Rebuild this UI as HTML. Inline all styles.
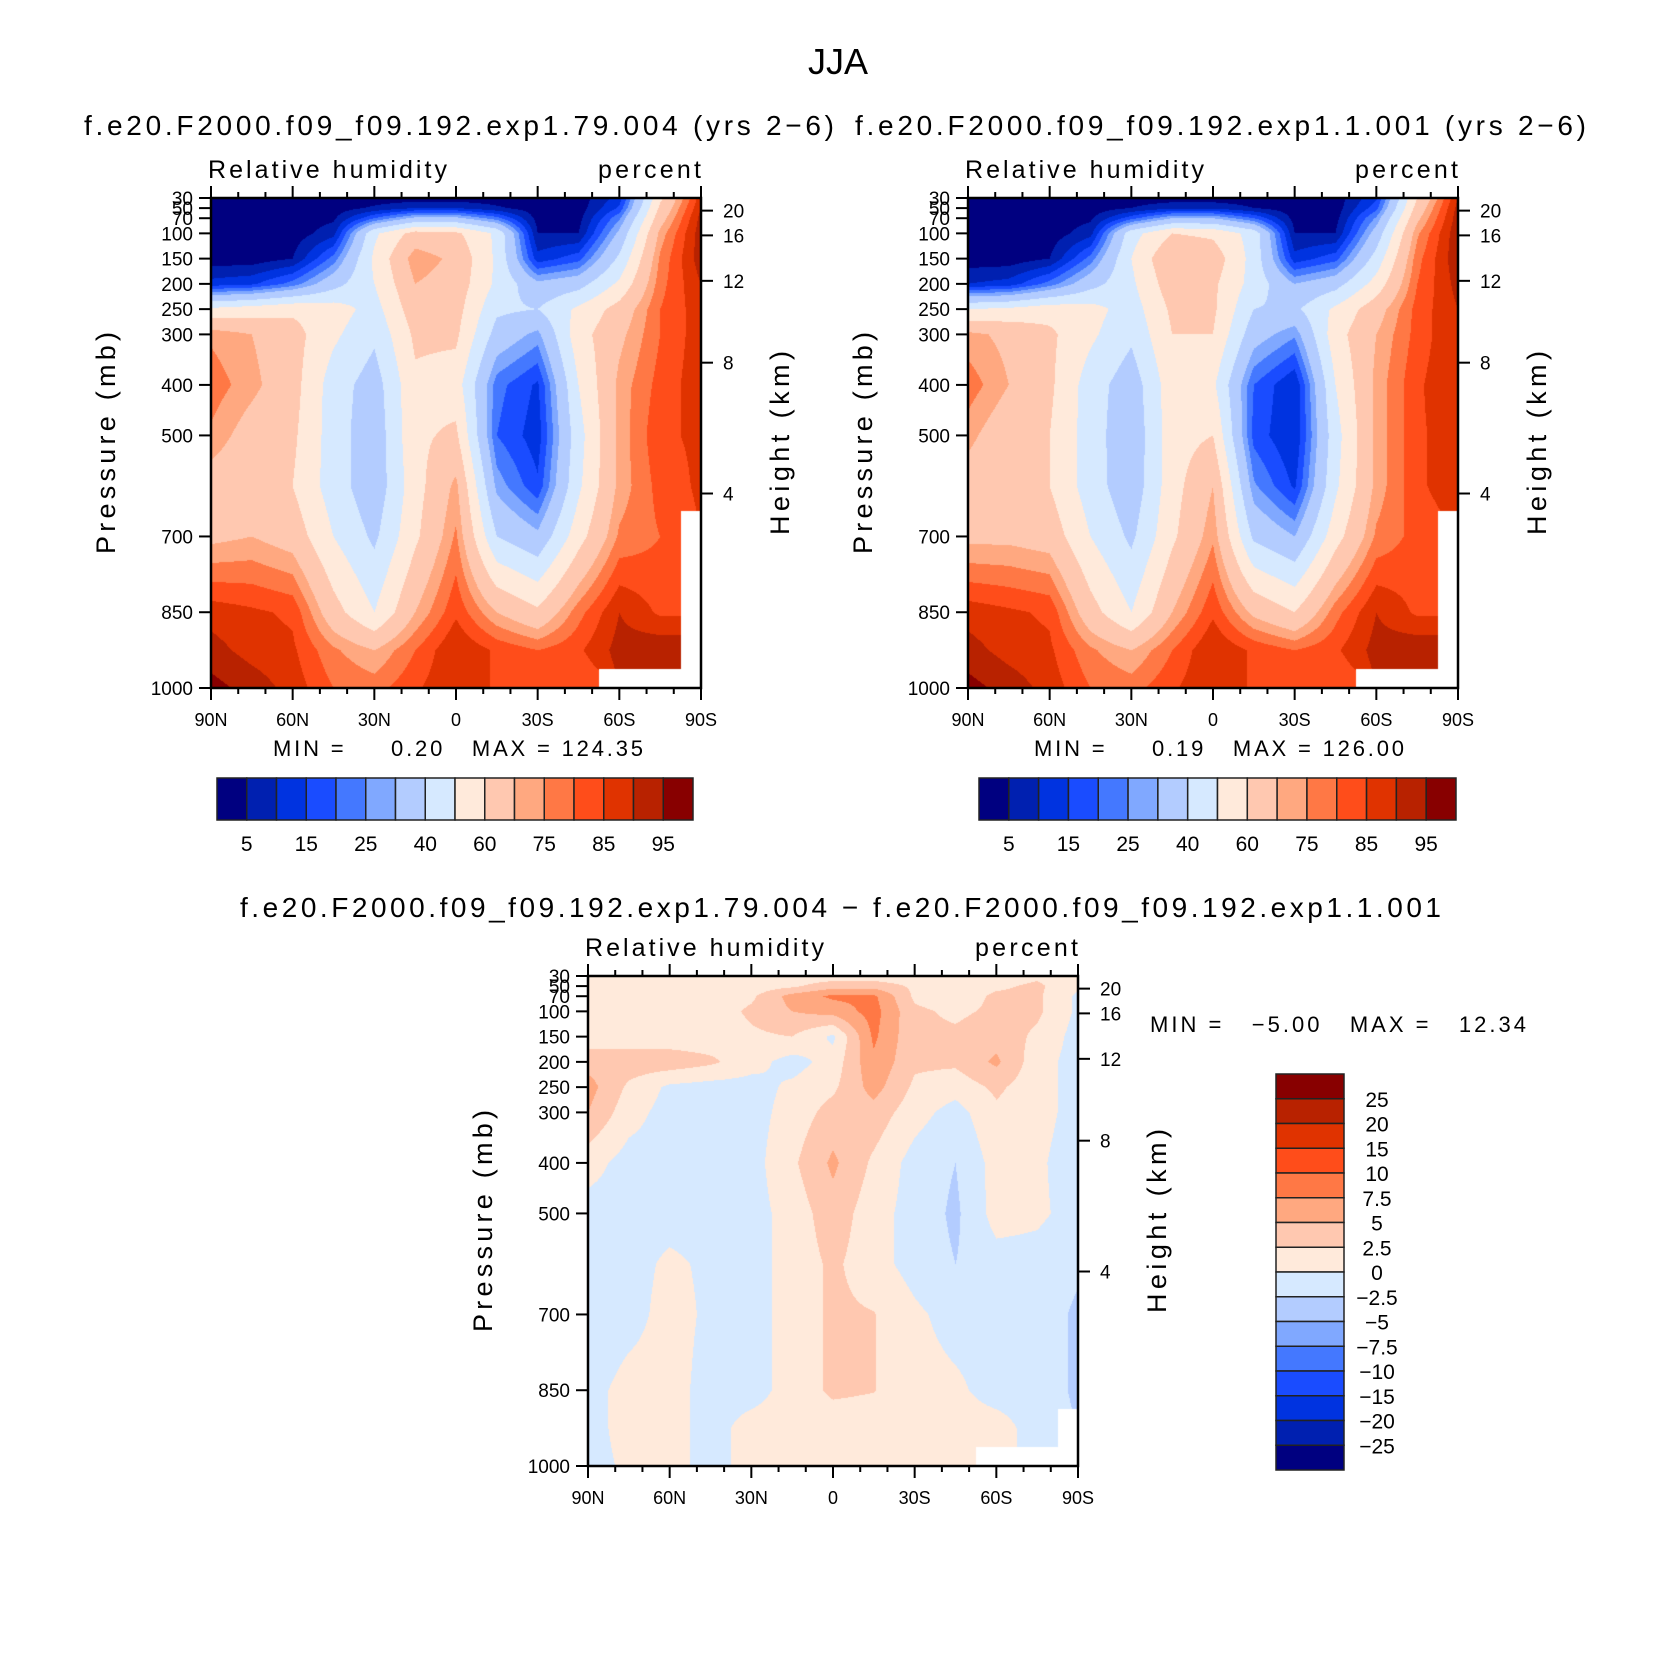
<!DOCTYPE html>
<html><head><meta charset="utf-8">
<style>
html,body{margin:0;padding:0;background:#fff;}
#wrap{position:relative;width:1669px;height:1666px;overflow:hidden;font-family:"Liberation Sans",sans-serif;}
canvas{position:absolute;}
svg{position:absolute;left:0;top:0;}
text{font-family:"Liberation Sans",sans-serif;fill:#000;}
</style></head>
<body>
<div id="wrap">
<canvas id="c1"></canvas>
<canvas id="c2"></canvas>
<canvas id="c3"></canvas>
<svg id="svg" width="1669" height="1666"></svg>
</div>
<script>
const lats = ["90N","75N","60N","45N","30N","15N","0","15S","30S","45S","60S","75S","90S"];
const pLevels = [30,50,70,100,150,200,250,300,400,500,600,700,850,925,1000];
const rhLevels = [5,10,15,20,25,30,40,50,60,70,75,80,85,90,95];
const diffLevels = [-25,-20,-15,-10,-7.5,-5,-2.5,0,2.5,5,7.5,10,15,20,25];
const rhLabels = ["5","15","25","40","60","75","85","95"];
const diffLabels = ["25","20","15","10","7.5","5","2.5","0","\u22122.5","\u22125","\u22127.5","\u221210","\u221215","\u221220","\u221225"];
const yTicks = [30,50,70,100,150,200,250,300,400,500,700,850,1000];
const xTickLabels = ["90N","60N","30N","0","30S","60S","90S"];
const heightTicks = ["20","16","12","8","4"];
const heightTickP = [55,104,194,356,615];
const palette = ["#000080","#0020b0","#0033e0","#1a4cff","#4478ff","#80a8ff","#b3ccff","#d6e9ff","#ffeadb","#ffc8b0","#ffa880","#ff7845","#ff4d1a","#e03300","#b82200","#880000"];
const N = null;
const rh1 = [
[2,2,2,2,2,2,2,2,2,2,12,58,88],
[2,2,2,2,6,10,10,6,2,2,16,62,90],
[2,2,2,4,20,32,32,22,3,3,24,66,92],
[2,2,2,8,48,64,62,48,5,5,32,72,93],
[2,2,5,22,52,74,68,48,12,18,42,76,93],
[12,14,22,36,50,70,66,48,32,36,52,78,90],
[52,55,58,55,46,66,64,42,40,52,64,80,88],
[74,70,64,52,42,62,62,36,28,56,68,80,88],
[78,72,64,45,35,58,55,22,14,50,72,82,88],
[74,66,62,45,33,58,62,20,12,46,72,84,86],
[66,62,60,45,33,56,72,28,16,48,72,82,86],
[68,70,66,50,38,58,76,40,32,56,76,80,N],
[88,86,84,64,50,70,84,70,62,78,90,84,N],
[92,88,86,76,70,80,90,84,80,84,92,94,N],
[97,93,88,80,78,84,90,84,80,80,N,N,N]];
const rh2 = [
[2,2,2,2,2,2,2,2,2,2,14,60,90],
[2,2,2,2,5,9,9,5,2,2,18,64,92],
[2,2,2,4,18,30,30,20,3,3,26,68,93],
[2,2,2,8,46,60,58,46,5,5,34,74,94],
[2,2,5,22,50,70,66,46,12,18,44,78,94],
[10,12,22,36,48,66,62,46,30,36,54,80,92],
[50,52,56,54,45,62,62,40,38,52,66,82,90],
[72,68,62,52,42,60,60,34,26,56,70,82,90],
[78,70,62,45,34,56,52,20,10,50,72,84,90],
[72,64,60,45,32,56,60,18,10,46,72,84,88],
[66,62,60,45,33,56,70,26,14,48,72,84,88],
[68,68,66,50,38,58,74,38,30,56,76,82,N],
[88,86,84,64,50,70,84,68,60,78,90,84,N],
[92,88,86,76,70,80,90,84,80,84,92,94,N],
[97,93,88,80,78,84,90,84,80,80,N,N,N]];
const diff = [
[1,1,1,1,1,1,1,1,1,1,1,2,1],
[1,1,1,1,1,2,4,4,2,1,2,3,0.5],
[1,1,1,1,2,6,8,8,2,1,3,3,-0.5],
[1,1,1,1,3,5,6,8.5,3,2,3,3,-0.5],
[1,1,1,1,2,2.5,-0.5,8,3,3,4,2,-1],
[4,4,4,3,1,-1,1,7,3,3,5.5,1,-1],
[6,2,-0.5,-1,-1,0.5,2,6,2,1,3,1,-1],
[5,1,-1,-1,-1,1,3.5,4,1,-1,2,1,-1],
[1,-1,-1,-1,-1,2,5.5,2,-1,-2.5,1,0.5,-1.5],
[-1,-1,-1,-1,-1,1,4,1,-1,-3,1,0.5,-1],
[-2.5,-1,0.5,-0.5,-1,1,3,1,-1,-2.5,-1,-1,-2],
[-2,-1,1,-0.5,-1,1,3,2.6,0.5,-1,-1,-1,-3],
[-1,1,1,-1,-1,1,3,2.6,1,0.5,-1,-1,-3],
[-1,1,1,-1,1,1,1,1,1,1,1,-1,N],
[-1,0.5,1,-1,1,1,1,1,1,1,N,N,N]];

const SVGNS="http://www.w3.org/2000/svg";
const svg=document.getElementById('svg');
function el(tag,attrs,txt){const e=document.createElementNS(SVGNS,tag);for(const k in attrs)e.setAttribute(k,attrs[k]);if(txt!==undefined)e.textContent=txt;svg.appendChild(e);return e;}
function colorIdx(v,lev){let i=0;while(i<lev.length&&v>=lev[i])i++;return Math.min(i,palette.length-1);}
function hex2rgb(h){return [parseInt(h.slice(1,3),16),parseInt(h.slice(3,5),16),parseInt(h.slice(5,7),16)];}
const palRGB=palette.map(hex2rgb);

function drawField(id,x0,y0,w,h,data,lev){
  const c=document.getElementById(id);c.width=w;c.height=h;c.style.left=x0+'px';c.style.top=y0+'px';
  const ctx=c.getContext('2d');const img=ctx.createImageData(w,h);
  const nc=lats.length-1;
  for(let py=0;py<h;py++){
    const p=30+(py+0.5)/h*970;
    let r=0;while(r<pLevels.length-2&&p>pLevels[r+1])r++;
    const fy=Math.min(1,Math.max(0,(p-pLevels[r])/(pLevels[r+1]-pLevels[r])));
    for(let px=0;px<w;px++){
      const fxx=(px+0.5)/w*nc;let ci=Math.min(nc-1,Math.floor(fxx));const fx=fxx-ci;
      const v00=data[r][ci],v01=data[r][ci+1],v10=data[r+1][ci],v11=data[r+1][ci+1];
      const near=data[fy<0.5?r:r+1][fx<0.5?ci:ci+1];
      let col;
      if(near===null){col=[255,255,255];}
      else{
        const vs=[[v00,(1-fx)*(1-fy)],[v01,fx*(1-fy)],[v10,(1-fx)*fy],[v11,fx*fy]];
        let s=0,ws=0;for(const [v,wt] of vs){if(v!==null){s+=v*wt;ws+=wt;}}
        col=palRGB[colorIdx(ws>0?s/ws:near,lev)];
      }
      const k=(py*w+px)*4;img.data[k]=col[0];img.data[k+1]=col[1];img.data[k+2]=col[2];img.data[k+3]=255;
    }
  }
  ctx.putImageData(img,0,0);
}

function axes(x0,y0,w,h,name){
  const xs=v=>x0+v/180*w;
  const ys=p=>y0+(p-30)/970*h;
  el('rect',{x:x0,y:y0,width:w,height:h,fill:'none',stroke:'#000','stroke-width':2.5,});
  for(let d=0;d<=180;d+=10){
    const major=d%30===0,L=major?12:6;
    el('line',{x1:xs(d),y1:y0,x2:xs(d),y2:y0-L,stroke:'#000','stroke-width':2,});
    el('line',{x1:xs(d),y1:y0+h,x2:xs(d),y2:y0+h+L,stroke:'#000','stroke-width':2,});
  }
  xTickLabels.forEach((t,i)=>{
    el('text',{x:xs(i*30),y:y0+h+38,'font-size':18,'text-anchor':'middle',},t);
  });
  yTicks.forEach(p=>{
    el('line',{x1:x0,y1:ys(p),x2:x0-12,y2:ys(p),stroke:'#000','stroke-width':2,});
    el('text',{x:x0-18,y:ys(p)+7,'font-size':19,'text-anchor':'end',},String(p));
  });
  heightTicks.forEach((t,i)=>{
    const y=ys(heightTickP[i]);
    el('line',{x1:x0+w,y1:y,x2:x0+w+12,y2:y,stroke:'#000','stroke-width':2,});
    el('text',{x:x0+w+22,y:y+7,'font-size':19,},t);
  });
  el('text',{x:x0-3,y:y0-20,'font-size':25,'textLength':239,},'Relative humidity');
  el('text',{x:x0+w,y:y0-20,'font-size':25,'text-anchor':'end','textLength':103,},'percent');
  const cy=y0+h*0.5;
  el('text',{x:x0-96,y:cy,'font-size':27,'text-anchor':'middle',transform:'rotate(-90 '+(x0-96)+' '+cy+')','textLength':222,},'Pressure (mb)');
  el('text',{x:x0+w+88,y:cy,'font-size':27,'text-anchor':'middle',transform:'rotate(-90 '+(x0+w+88)+' '+cy+')','textLength':184,},'Height (km)');
}

function hBar(x0,y0,w,h,name){
  const bw=w/palette.length;
  palette.forEach((c,i)=>{el('rect',{x:x0+i*bw,y:y0,width:bw,height:h,fill:c,stroke:'#222','stroke-width':1.5,});});
  rhLabels.forEach((t,i)=>{el('text',{x:x0+(2*i+1)*bw,y:y0+h+31,'font-size':21,'text-anchor':'middle',},t);});
}
function vBar(x0,y0,w,h,name){
  const bh=h/palette.length;
  palette.slice().reverse().forEach((c,i)=>{el('rect',{x:x0,y:y0+i*bh,width:w,height:bh,fill:c,stroke:'#222','stroke-width':1.5,});});
  diffLabels.forEach((t,i)=>{el('text',{x:x0+w+33,y:y0+(i+1)*bh+8,'font-size':21,'text-anchor':'middle',},t);});
}

const P1={x:211,y:198,w:490,h:490}, P2={x:968,y:198,w:490,h:490}, P3={x:588,y:976,w:490,h:490};
try{drawField('c1',P1.x,P1.y,P1.w,P1.h,rh1,rhLevels);}catch(e){}
try{drawField('c2',P2.x,P2.y,P2.w,P2.h,rh2,rhLevels);}catch(e){}
try{drawField('c3',P3.x,P3.y,P3.w,P3.h,diff,diffLevels);}catch(e){}
axes(P1.x,P1.y,P1.w,P1.h,'panel1');
axes(P2.x,P2.y,P2.w,P2.h,'panel2');
axes(P3.x,P3.y,P3.w,P3.h,'panel3');

el('text',{x:838,y:74,'font-size':36,'text-anchor':'middle',},'JJA');
el('text',{x:84,y:135,'font-size':28,'textLength':750,},'f.e20.F2000.f09_f09.192.exp1.79.004 (yrs 2\u22126)');
el('text',{x:855,y:135,'font-size':28,'textLength':731,},'f.e20.F2000.f09_f09.192.exp1.1.001 (yrs 2\u22126)');
el('text',{x:240,y:917,'font-size':28,'textLength':1201,},'f.e20.F2000.f09_f09.192.exp1.79.004 \u2212 f.e20.F2000.f09_f09.192.exp1.1.001');

el('text',{x:273,y:756,'font-size':22,'textLength':370,'style':'white-space:pre',},'MIN =     0.20   MAX = 124.35');
el('text',{x:1034,y:756,'font-size':22,'textLength':370,'style':'white-space:pre',},'MIN =     0.19   MAX = 126.00');
el('text',{x:1150,y:1032,'font-size':22,'textLength':376,'style':'white-space:pre',},'MIN =   \u22125.00   MAX =   12.34');

hBar(217,778,476,42,'colorbar1');
hBar(979,778,477,42,'colorbar2');
vBar(1276,1074,68,396,'colorbar3');
</script>
</body></html>
